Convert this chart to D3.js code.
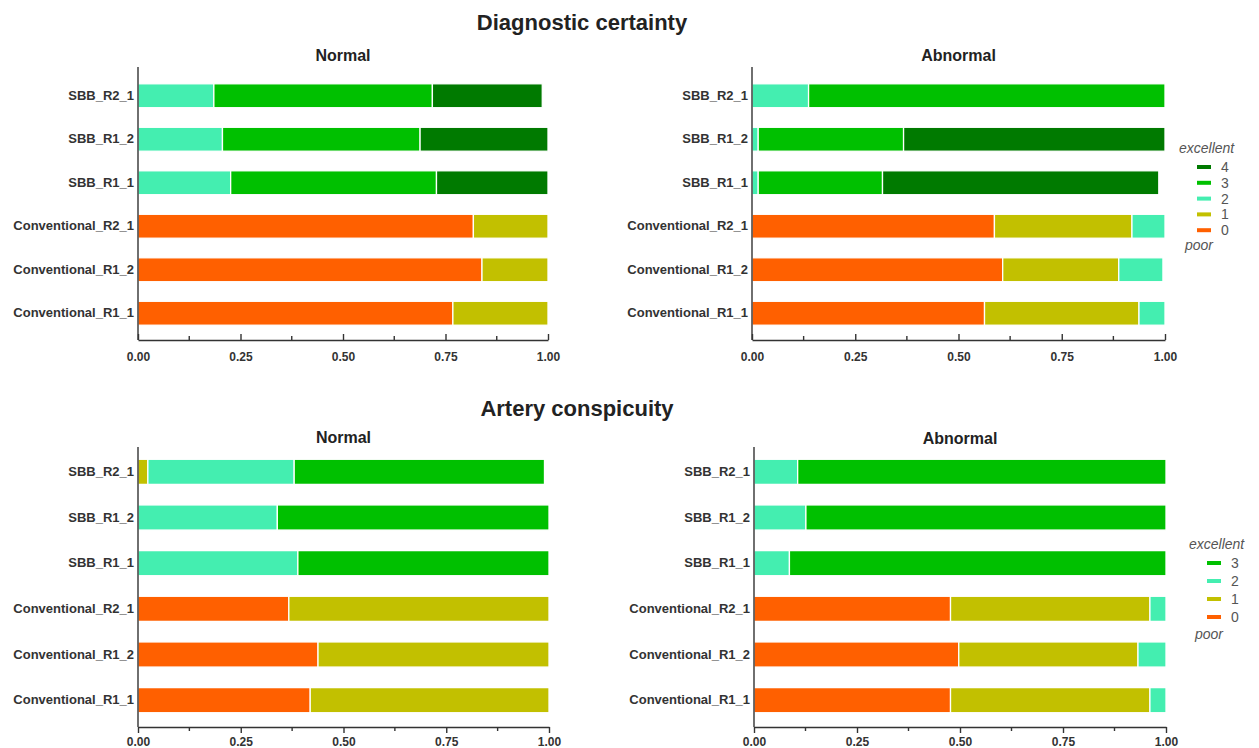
<!DOCTYPE html>
<html>
<head>
<meta charset="utf-8">
<script src="https://cdn.jsdelivr.net/npm/d3@7"></script>
<style>
  body { margin: 0; background: #fff; }
  text { font-family: "Liberation Sans", Arial, sans-serif; }
  .axis path, .axis line { stroke: #333; stroke-width: 1.4; }
  .axis text { font-weight: bold; fill: #333; }
</style>
</head>
<body>
<div id="chart"></div>
<script>
// rows, top to bottom
var categories = ["SBB_R2_1", "SBB_R1_2", "SBB_R1_1", "Conventional_R2_1", "Conventional_R1_2", "Conventional_R1_1"];
var ticks = [0, 0.25, 0.5, 0.75, 1];
var minorTicks = [0.125, 0.375, 0.625, 0.875];

// Diagnostic certainty, score 0..4
var dcNormal0 = [0, 0, 0, 0.818, 0.839, 0.768];
var dcNormal1 = [0, 0, 0, 0.182, 0.161, 0.232];
var dcNormal2 = [0.185, 0.206, 0.226, 0, 0, 0];
var dcNormal3 = [0.533, 0.482, 0.502, 0, 0, 0];
var dcNormal4 = [0.268, 0.312, 0.272, 0, 0, 0];

var dcAbn0 = [0, 0, 0, 0.587, 0.607, 0.563];
var dcAbn1 = [0, 0, 0, 0.333, 0.281, 0.374];
var dcAbn2 = [0.137, 0.015, 0.015, 0.080, 0.107, 0.063];
var dcAbn3 = [0.863, 0.352, 0.301, 0, 0, 0];
var dcAbn4 = [0, 0.633, 0.669, 0, 0, 0];

// Artery conspicuity, score 0..3
var acNormal0 = [0, 0, 0, 0.367, 0.438, 0.419];
var acNormal1 = [0.024, 0, 0, 0.633, 0.562, 0.581];
var acNormal2 = [0.356, 0.339, 0.389, 0, 0, 0];
var acNormal3 = [0.609, 0.661, 0.611, 0, 0, 0];

var acAbn0 = [0, 0, 0, 0.477, 0.497, 0.477];
var acAbn1 = [0, 0, 0, 0.484, 0.435, 0.484];
var acAbn2 = [0.106, 0.126, 0.086, 0.039, 0.068, 0.039];
var acAbn3 = [0.894, 0.874, 0.914, 0, 0, 0];

var colors = ["#ff6000", "#c2c000", "#44eeb0", "#00c000", "#007a00"];

var svg = d3.select("#chart").append("svg")
    .attr("width", 1259)
    .attr("height", 748);

// panel boxes
var panels = [
  {series: [dcNormal0, dcNormal1, dcNormal2, dcNormal3, dcNormal4], title: "Normal",
   x0: 138, x1: 548, yTop: 67, y0: 74, y1: 335, axisY: 340, tickDir: -1, titleY: 61},
  {series: [dcAbn0, dcAbn1, dcAbn2, dcAbn3, dcAbn4], title: "Abnormal",
   x0: 752, x1: 1165, yTop: 67, y0: 74, y1: 335, axisY: 340, tickDir: -1, titleY: 61},
  {series: [acNormal0, acNormal1, acNormal2, acNormal3], title: "Normal",
   x0: 138, x1: 549, yTop: 447, y0: 449, y1: 723, axisY: 727, tickDir: 1, titleY: 443},
  {series: [acAbn0, acAbn1, acAbn2, acAbn3], title: "Abnormal",
   x0: 754, x1: 1166, yTop: 447, y0: 449, y1: 723, axisY: 727, tickDir: 1, titleY: 444}
];

// main titles
svg.append("text").attr("x", 582).attr("y", 30)
    .attr("text-anchor", "middle").attr("font-size", 22).attr("font-weight", "bold")
    .attr("fill", "#222").text("Diagnostic certainty");
svg.append("text").attr("x", 577).attr("y", 416)
    .attr("text-anchor", "middle").attr("font-size", 22).attr("font-weight", "bold")
    .attr("fill", "#222").text("Artery conspicuity");

panels.forEach(function (p) {
  var g = svg.append("g");
  var levels = p.series.map(function (s, i) { return "l" + i; });

  var rows = categories.map(function (c, j) {
    var r = {cat: c};
    p.series.forEach(function (s, i) { r["l" + i] = s[j]; });
    return r;
  });

  var x = d3.scaleLinear().domain([0, 1]).range([p.x0, p.x1]);
  var y = d3.scaleBand().domain(categories).range([p.y0, p.y1])
      .paddingInner(0.45).paddingOuter(0.225);

  var stacked = d3.stack().keys(levels)(rows);

  g.selectAll(".layer")
    .data(stacked)
    .enter().append("g")
      .attr("fill", function (d, i) { return colors[i]; })
    .selectAll("rect")
    .data(function (d) { return d; })
    .enter().append("rect")
      .attr("x", function (d) { return x(d[0]); })
      .attr("width", function (d) { return Math.max(0, x(d[1]) - x(d[0])); })
      .attr("y", function (d) { return y(d.data.cat); })
      .attr("height", y.bandwidth())
      .attr("stroke", "#fff")
      .attr("stroke-width", function (d) { return d[1] - d[0] > 0 ? 1.3 : 0; });

  // subtitle
  g.append("text").attr("x", (p.x0 + p.x1) / 2).attr("y", p.titleY)
      .attr("text-anchor", "middle").attr("font-size", 16).attr("font-weight", "bold")
      .attr("fill", "#222").text(p.title);

  // y axis
  var yAxis = g.append("g").attr("class", "axis")
      .attr("transform", "translate(" + p.x0 + ",0)")
      .call(d3.axisLeft(y).tickSize(0).tickPadding(4));
  yAxis.select(".domain").attr("d", "M0," + p.yTop + "V" + p.axisY);
  yAxis.selectAll("text").attr("font-size", 13);

  // x axis
  var xAxis = g.append("g").attr("class", "axis")
      .attr("transform", "translate(0," + p.axisY + ")")
      .call(d3.axisBottom(x).tickValues(ticks).tickFormat(d3.format(".2f"))
        .tickSizeInner(6 * p.tickDir).tickSizeOuter(0).tickPadding(p.tickDir < 0 ? 12 : 4));
  xAxis.selectAll("text").attr("font-size", 12).attr("dy", "0.71em");

  xAxis.selectAll(".minor")
    .data(minorTicks)
    .enter().append("line")
      .attr("class", "minor")
      .attr("x1", function (d) { return x(d); })
      .attr("x2", function (d) { return x(d); })
      .attr("y1", 0).attr("y2", 4 * p.tickDir);
});

// legends
function legend(lx, ly, step, n) {
  var g = svg.append("g");
  g.append("text").attr("x", lx).attr("y", ly)
      .attr("font-size", 14).attr("font-style", "italic").attr("fill", "#555")
      .text("excellent");
  var items = d3.range(n - 1, -1, -1);
  items.forEach(function (v, i) {
    var cy = ly + 14 + i * step;
    g.append("rect").attr("x", lx + 18).attr("y", cy - 2).attr("width", 14).attr("height", 4)
        .attr("fill", colors[v]);
    g.append("text").attr("x", lx + 42).attr("y", cy + 5)
        .attr("font-size", 14).attr("fill", "#555").text(v);
  });
  g.append("text").attr("x", lx + 6).attr("y", ly + 14 + n * step + 4)
      .attr("font-size", 14).attr("font-style", "italic").attr("fill", "#555")
      .text("poor");
}
legend(1179, 153, 15.8, 5);
legend(1189, 549, 18, 4);
</script>
</body>
</html>
